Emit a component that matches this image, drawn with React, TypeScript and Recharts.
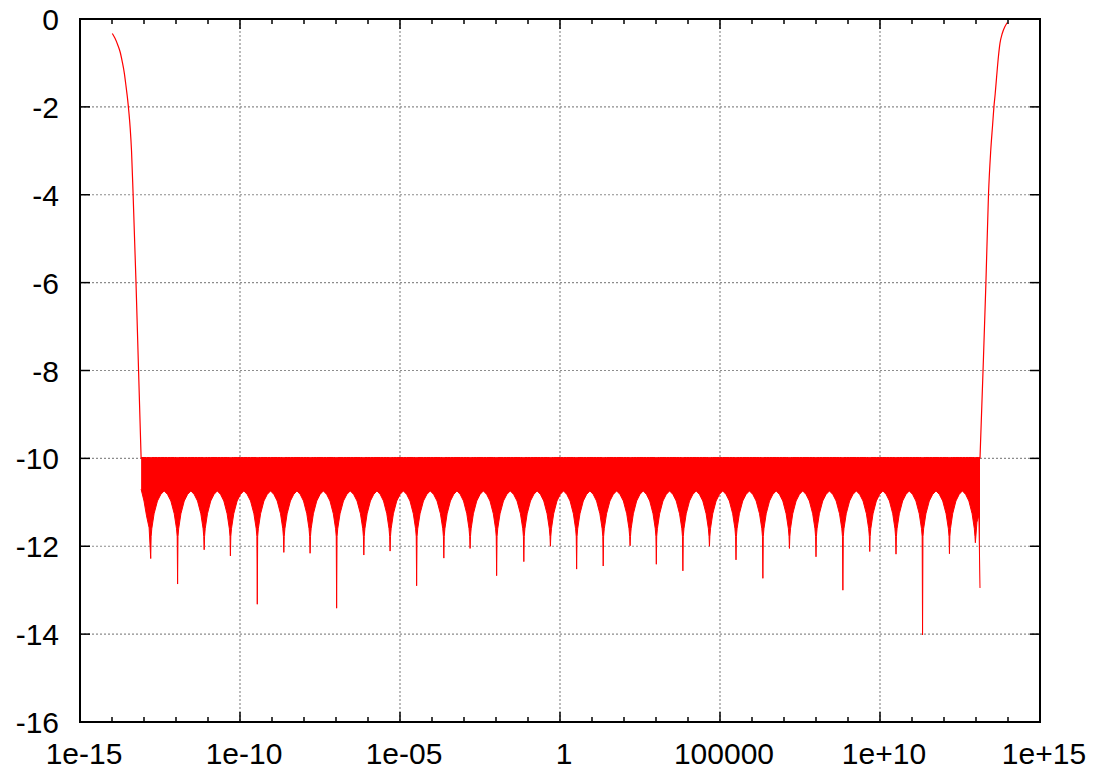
import { ComposedChart, Area, Line, XAxis, YAxis, CartesianGrid } from 'recharts'

// x is stored as log10(x); the axis labels are gnuplot's %g of 10^x
const majorX = [-15, -10, -5, 0, 5, 10, 15]
const xTickLabels = ['1e-15', '1e-10', '1e-05', '1', '100000', '1e+10', '1e+15']
const minorX = [-15, -14, -13, -12, -11, -10, -9, -8, -7, -6, -5, -4, -3, -2, -1, 0,
  1, 2, 3, 4, 5, 6, 7, 8, 9, 10, 11, 12, 13, 14, 15]
const yTicks = [-16, -14, -12, -10, -8, -6, -4, -2, 0]

// steep flanks on both sides
const leftLogX = [-13.99, -13.906, -13.82, -13.75, -13.68, -13.615, -13.56, -13.51, -13.47, -13.43, -13.39, -13.34, -13.25, -13.17, -13.09]
const leftY = [-0.33, -0.44, -0.59, -0.74, -0.97, -1.23, -1.54, -1.84, -2.14, -2.5, -3.0, -4, -6, -8, -10]
const rightLogX = [13.125, 13.22, 13.31, 13.39, 13.46, 13.52, 13.56, 13.6, 13.645, 13.7, 13.75, 13.82, 13.906, 13.98]
const rightY = [-10, -8, -6, -4, -3, -2.4, -2.0, -1.7, -1.31, -0.86, -0.55, -0.33, -0.17, -0.08]

// noise floor around -10: downward spikes between the arches
const spikeLogX = [-12.79, -11.95, -11.12, -10.3, -9.46, -8.63, -7.81, -6.98, -6.13, -5.31,
  -4.48, -3.63, -2.81, -1.98, -1.13, -0.3, 0.52, 1.35, 2.19, 3.01,
  3.84, 4.67, 5.5, 6.34, 7.17, 8.0, 8.84, 9.68, 10.5, 11.33, 12.17, 12.98]
const spikeDepth = [-12.28, -12.86, -12.08, -12.22, -13.32, -12.14, -12.16, -13.41, -12.2, -12.11,
  -12.9, -12.27, -12.05, -12.67, -12.35, -12.0, -12.52, -12.45, -11.99, -12.41,
  -12.56, -12.0, -12.31, -12.73, -12.05, -12.24, -13.0, -12.12, -12.18, -14.02, -12.17, -11.92]
// lower edge of an arch, at fractions of the half-gap from its centre
const archFrac = [0, 0.25, 0.5, 0.75, 0.92, 0.97]
const archLow = [-10.74, -10.82, -10.97, -11.26, -11.6, -11.78]
const floorTop = -9.98
// partial arches at both ends of the floor
const headLogX = [-13.09, -13.0, -12.92, -12.84]
const headLow = [-10.7, -10.97, -11.31, -11.58]
const endLogX = [13.03, 13.09, 13.125]
const endLow = [-11.45, -11.3, -12.95]

type Row = { x: number; tail?: number; band?: [number, number] }

const rows: Row[] = []
leftLogX.forEach((x, i) => rows.push({ x, tail: leftY[i] }))
headLogX.forEach((x, i) => rows.push({ x, band: [headLow[i], floorTop] }))
spikeLogX.forEach((s, i) => {
  rows.push({ x: s, band: [spikeDepth[i], floorTop] })
  const next = spikeLogX[i + 1]
  if (next === undefined) return
  const mid = (s + next) / 2
  const half = (next - s) / 2
  for (let k = archFrac.length - 1; k >= 0; k--) rows.push({ x: mid - archFrac[k] * half, band: [archLow[k], floorTop] })
  for (let k = 1; k < archFrac.length; k++) rows.push({ x: mid + archFrac[k] * half, band: [archLow[k], floorTop] })
})
endLogX.forEach((x, i) => rows.push({ x, band: [endLow[i], floorTop] }))
rightLogX.forEach((x, i) => rows.push({ x, tail: rightY[i] }))

const font = { fontFamily: "'Liberation Sans', Arial, sans-serif", fontSize: 30, fill: '#000' }
const border = { stroke: '#000', strokeWidth: 2, strokeLinecap: 'square' as const }

const tickLen = (v: number) => (majorX.includes(v) ? 10 : 5)

const BottomTick = ({ x, y, payload }: any) => {
  const i = majorX.indexOf(payload.value)
  return (
    <g>
      <line x1={x} x2={x} y1={y} y2={y - tickLen(payload.value)} stroke="#000" strokeWidth={1.5} />
      {i >= 0 && <text x={x + 4} y={y + 42} textAnchor="middle" {...font}>{xTickLabels[i]}</text>}
    </g>
  )
}
const TopTick = ({ x, y, payload }: any) => (
  <line x1={x} x2={x} y1={y} y2={y + tickLen(payload.value)} stroke="#000" strokeWidth={1.5} />
)
const LeftTick = ({ x, y, payload }: any) => (
  <g>
    <line x1={x} x2={x + 10} y1={y} y2={y} stroke="#000" strokeWidth={1.5} />
    <text x={x - 21} y={y + 11} textAnchor="end" {...font}>{String(payload.value)}</text>
  </g>
)
const RightTick = ({ x, y }: any) => (
  <line x1={x} x2={x - 10} y1={y} y2={y} stroke="#000" strokeWidth={1.5} />
)

export default function App() {
  return (
    <div style={{ position: 'absolute', left: 0, top: 0, width: 1093, height: 771, background: '#fff' }}>
      <ComposedChart width={1093} height={771} data={rows} margin={{ top: 18, right: 52, bottom: 0, left: 0 }}>
        <CartesianGrid xAxisId="b" yAxisId="l" verticalValues={[-10, -5, 0, 5, 10]} horizontalValues={yTicks}
          stroke="#8c8c8c" strokeDasharray="2 2" strokeWidth={1.2} />
        <XAxis xAxisId="b" dataKey="x" type="number" domain={[-15, 15]} allowDataOverflow ticks={minorX} interval={0}
          height={49} tickSize={0} tickMargin={0} tickLine={false} axisLine={border} tick={BottomTick} />
        <XAxis xAxisId="t" orientation="top" dataKey="x" type="number" domain={[-15, 15]} allowDataOverflow
          ticks={minorX} interval={0} height={1} tickSize={0} tickMargin={0} tickLine={false} axisLine={border} tick={TopTick} />
        <YAxis yAxisId="l" type="number" domain={[-16, 0]} allowDataOverflow ticks={yTicks} interval={0}
          width={80} tickSize={0} tickMargin={0} tickLine={false} axisLine={border} tick={LeftTick} />
        <YAxis yAxisId="r" orientation="right" type="number" domain={[-16, 0]} allowDataOverflow ticks={yTicks}
          interval={0} width={1} tickSize={0} tickMargin={0} tickLine={false} axisLine={border} tick={RightTick} />
        <Area xAxisId="b" yAxisId="l" dataKey="band" type="linear" fill="#ff0000" fillOpacity={1}
          stroke="#ff0000" strokeWidth={1} isAnimationActive={false} />
        <Line xAxisId="b" yAxisId="l" dataKey="tail" type="monotone" stroke="#ff0000" strokeWidth={1.2}
          dot={false} isAnimationActive={false} />
      </ComposedChart>
    </div>
  )
}
